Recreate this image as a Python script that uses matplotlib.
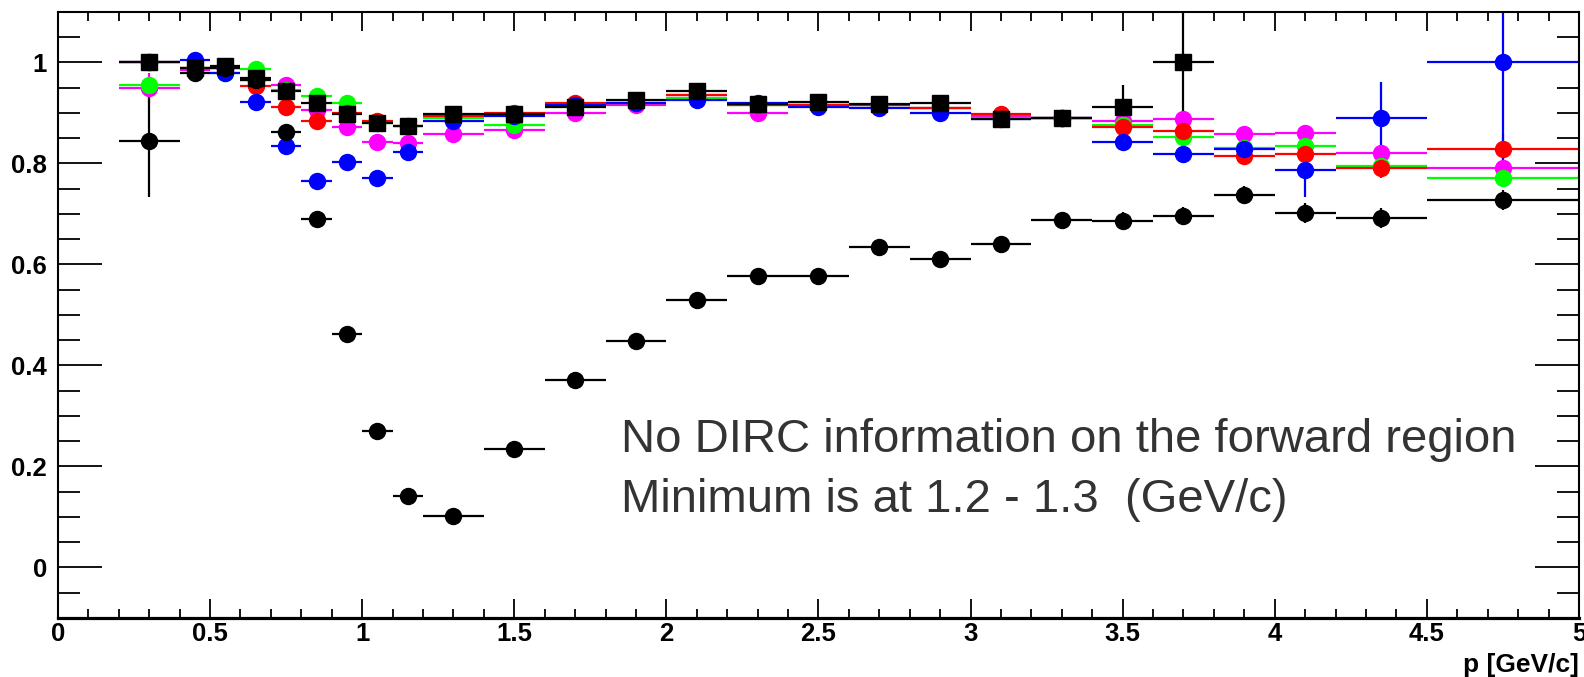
import numpy as np
import matplotlib
matplotlib.use('Agg')
import matplotlib.pyplot as plt
from matplotlib.ticker import MultipleLocator

plt.rcParams['font.family'] = ['Liberation Sans', 'DejaVu Sans']

# bin centres and half widths in p [GeV/c]
p_center = [0.3, 0.45, 0.55, 0.65, 0.75, 0.85, 0.95, 1.05, 1.15, 1.3, 1.5, 1.7, 1.9,
            2.1, 2.3, 2.5, 2.7, 2.9, 3.1, 3.3, 3.5, 3.7, 3.9, 4.1, 4.35, 4.75]
p_half = [0.1, 0.05, 0.05, 0.05, 0.05, 0.05, 0.05, 0.05, 0.05, 0.1, 0.1, 0.1, 0.1,
          0.1, 0.1, 0.1, 0.1, 0.1, 0.1, 0.1, 0.1, 0.1, 0.1, 0.1, 0.15, 0.25]

magenta_y = [0.95, 0.985, 0.99, 0.965, 0.955, 0.905, 0.872, 0.843, 0.84, 0.858, 0.866, 0.9, 0.915,
             0.935, 0.9, 0.915, 0.915, 0.91, 0.895, 0.89, 0.885, 0.888, 0.859, 0.86, 0.82, 0.792]
magenta_err = [0.03, 0.01, 0.01, 0.01, 0.01, 0.01, 0.01, 0.01, 0.01, 0.01, 0.01, 0.01, 0.01,
               0.01, 0.01, 0.01, 0.01, 0.01, 0.01, 0.01, 0.01, 0.01, 0.01, 0.01, 0.01, 0.01]

green_y = [0.956, 0.99, 0.98, 0.987, 0.945, 0.934, 0.92, 0.88, 0.875, 0.89, 0.876, 0.915, 0.92,
           0.93, 0.915, 0.915, 0.915, 0.91, 0.89, 0.89, 0.876, 0.853, 0.83, 0.835, 0.795, 0.772]
green_err = [0.01] * 26

red_y = [1.0, 0.99, 0.99, 0.954, 0.912, 0.885, 0.9, 0.885, 0.875, 0.895, 0.9, 0.92, 0.92,
         0.935, 0.915, 0.915, 0.915, 0.91, 0.897, 0.89, 0.873, 0.864, 0.814, 0.819, 0.792, 0.829]
red_err = [0.01, 0.01, 0.01, 0.01, 0.01, 0.01, 0.01, 0.01, 0.01, 0.01, 0.01, 0.01, 0.01,
           0.01, 0.01, 0.01, 0.01, 0.01, 0.01, 0.01, 0.01, 0.01, 0.01, 0.02, 0.02, 0.03]

blue_y = [1.0, 1.004, 0.979, 0.922, 0.834, 0.766, 0.802, 0.772, 0.823, 0.885, 0.895, 0.915, 0.92,
          0.925, 0.92, 0.912, 0.91, 0.9, 0.888, 0.89, 0.843, 0.818, 0.829, 0.787, 0.891, 1.0]
blue_err = [0.01, 0.01, 0.01, 0.01, 0.01, 0.01, 0.01, 0.01, 0.01, 0.01, 0.01, 0.01, 0.01,
            0.01, 0.01, 0.01, 0.01, 0.01, 0.01, 0.01, 0.015, 0.015, 0.027, 0.053, 0.07, 0.217]

black_circ_y = [0.844, 0.98, 0.99, 0.965, 0.862, 0.69, 0.462, 0.27, 0.142, 0.102, 0.234, 0.372, 0.448,
                0.53, 0.578, 0.578, 0.634, 0.61, 0.64, 0.688, 0.686, 0.696, 0.738, 0.702, 0.692, 0.728]
black_circ_err = [0.11, 0.01, 0.01, 0.01, 0.01, 0.01, 0.01, 0.01, 0.01, 0.01, 0.01, 0.01, 0.01,
                  0.01, 0.01, 0.01, 0.015, 0.015, 0.015, 0.015, 0.018, 0.018, 0.018, 0.02, 0.02, 0.02]

# black squares stop at the 3.7 bin
black_sq_y = [1.0, 0.99, 0.993, 0.97, 0.944, 0.92, 0.898, 0.88, 0.875, 0.898, 0.897, 0.912, 0.925,
              0.943, 0.917, 0.922, 0.917, 0.92, 0.889, 0.89, 0.912, 1.0]
black_sq_err = [0.01, 0.01, 0.01, 0.01, 0.01, 0.01, 0.01, 0.01, 0.01, 0.01, 0.01, 0.01, 0.01,
                0.01, 0.01, 0.01, 0.01, 0.01, 0.01, 0.01, 0.043, 0.1]

text_lines = ['No DIRC information on the forward region', 'Minimum is at 1.2 - 1.3  (GeV/c)']


def draw(ax, y, yerr, color, marker, ms):
    n = len(y)
    ax.errorbar(p_center[:n], y, xerr=p_half[:n], yerr=yerr, fmt=marker, color=color,
                ecolor=color, ms=ms, mec=color, mfc=color, elinewidth=1.6, capsize=0)


fig = plt.figure(figsize=(15.84, 6.77), dpi=100)
ax = fig.add_axes([0.0366, 0.0872, 0.9602, 0.8951])

draw(ax, magenta_y, magenta_err, '#ff00ff', 'o', 11.5)
draw(ax, green_y, green_err, '#00ff00', 'o', 11.5)
draw(ax, red_y, red_err, '#ff0000', 'o', 11.5)
draw(ax, blue_y, blue_err, '#0000ff', 'o', 11.5)
draw(ax, black_circ_y, black_circ_err, 'black', 'o', 11.5)
draw(ax, black_sq_y, black_sq_err, 'black', 's', 12)

ax.set_xlim(0, 5)
ax.set_ylim(-0.1, 1.1)

ax.xaxis.set_minor_locator(MultipleLocator(0.1))
ax.yaxis.set_minor_locator(MultipleLocator(0.05))
ax.set_xticks([0, 0.5, 1, 1.5, 2, 2.5, 3, 3.5, 4, 4.5, 5])
ax.set_xticklabels(['0', '0.5', '1', '1.5', '2', '2.5', '3', '3.5', '4', '4.5', '5'])
ax.set_yticks([0, 0.2, 0.4, 0.6, 0.8, 1.0])
ax.set_yticklabels(['0', '0.2', '0.4', '0.6', '0.8', '1'])

ax.tick_params(axis='both', which='both', direction='in', top=True, right=True,
               width=1.3, color='black', labelsize=18.5)
ax.tick_params(axis='x', which='major', length=13.5, pad=3)
ax.tick_params(axis='x', which='minor', length=6.5)
ax.tick_params(axis='y', which='major', length=32, pad=8)
ax.tick_params(axis='y', which='minor', length=16)
for lab in ax.get_xticklabels() + ax.get_yticklabels():
    lab.set_fontweight('bold')

for side in ['left', 'right', 'top']:
    ax.spines[side].set_linewidth(1.5)
ax.spines['bottom'].set_linewidth(2.3)

ax.set_xlabel('p [GeV/c]', fontsize=19, fontweight='bold', loc='right', labelpad=5)

ax.text(1.852, 0.229, text_lines[0], fontsize=34, color='#333333', va='baseline', ha='left')
ax.text(1.852, 0.110, text_lines[1], fontsize=34, color='#333333', va='baseline', ha='left')

fig.savefig('out.png', dpi=100)
